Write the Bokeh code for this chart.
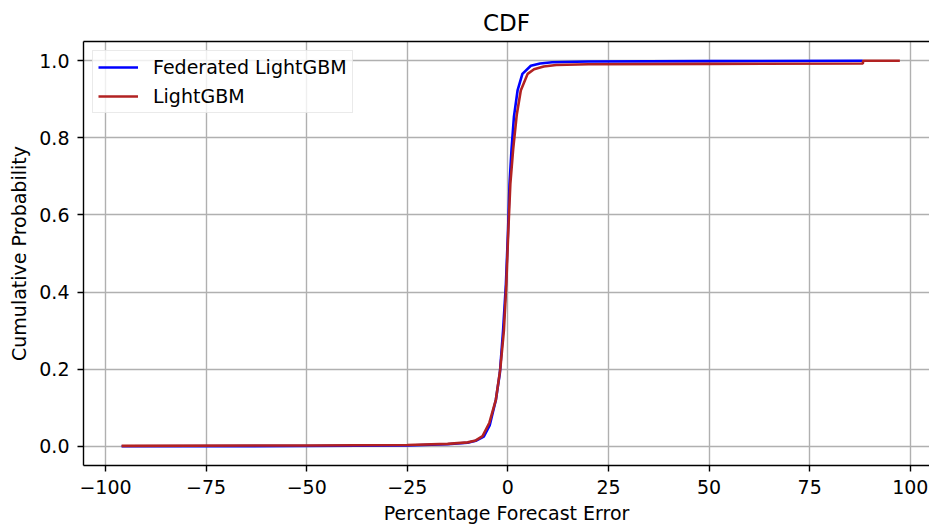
from bokeh.plotting import figure
from bokeh.models import Range1d, FixedTicker, CustomJSTickFormatter, LinearAxis, Legend, LegendItem
from bokeh.embed import file_html
from bokeh.resources import INLINE

# ---- data ----
fed_x = [-96.0, -50.0, -25.0, -15.0, -10.0, -8.0, -6.0, -4.5, -3.0, -2.0, -1.2, -0.5,
         0.0, 0.4, 0.9, 1.5, 2.4, 3.6, 5.7, 8.0, 11.0, 20.0, 50.0, 88.2]
fed_y = [0.0, 0.0005, 0.002, 0.005, 0.009, 0.014, 0.025, 0.055, 0.12, 0.19, 0.30, 0.42,
         0.55, 0.68, 0.77, 0.855, 0.923, 0.966, 0.987, 0.993, 0.996, 0.998, 0.999, 1.0]

lgb_x = [-96.0, -50.0, -25.0, -15.0, -10.0, -8.0, -6.3, -4.6, -3.0, -1.9, -1.0, -0.4,
         0.1, 0.6, 1.3, 2.2, 3.2, 4.9, 6.5, 8.9, 12.0, 20.0, 50.0, 88.2, 88.3, 97.4]
lgb_y = [0.001, 0.002, 0.003, 0.006, 0.010, 0.015, 0.026, 0.061, 0.12, 0.20, 0.30, 0.42,
         0.56, 0.68, 0.77, 0.86, 0.923, 0.966, 0.978, 0.985, 0.989, 0.991, 0.992, 0.993, 1.0, 1.0]

x_ticks = [-100, -75, -50, -25, 0, 25, 50, 75, 100]
y_ticks = [0.0, 0.2, 0.4, 0.6, 0.8, 1.0]

FONT = "DejaVu Sans"
FS = "19px"

p = figure(width=929, height=526, output_backend="svg", toolbar_location=None,
           x_range=Range1d(-105.47, 104.77), y_range=Range1d(-0.05, 1.05),
           min_border_left=83, min_border_right=0, min_border_top=41, min_border_bottom=60,
           background_fill_color="white", border_fill_color="white")
p.outline_line_color = None

p.title.text = "CDF"
p.title.align = "center"
p.title.text_font = FONT
p.title.text_font_size = "23px"
p.title.text_font_style = "normal"
p.title.text_color = "black"
p.title.standoff = 12

for ax in (p.xaxis[0], p.yaxis[0]):
    ax.axis_line_color = "black"
    ax.axis_line_width = 1.4
    ax.major_tick_line_color = "black"
    ax.major_tick_line_width = 1.4
    ax.major_tick_in = 0
    ax.major_tick_out = 6
    ax.minor_tick_line_color = None
    ax.major_label_text_font = FONT
    ax.major_label_text_font_size = FS
    ax.major_label_text_color = "black"
    ax.axis_label_text_font = FONT
    ax.axis_label_text_font_size = FS
    ax.axis_label_text_font_style = "normal"
    ax.axis_label_text_color = "black"

p.xaxis.ticker = FixedTicker(ticks=x_ticks)
p.yaxis.ticker = FixedTicker(ticks=y_ticks)
p.xaxis.formatter = CustomJSTickFormatter(code="return tick.toFixed(0).replace('-', '\u2212');")
p.yaxis.formatter = CustomJSTickFormatter(code="return tick.toFixed(1);")
p.xaxis.axis_label = "Percentage Forecast Error"
p.yaxis.axis_label = "Cumulative Probability"
p.xaxis.major_label_standoff = 8
p.yaxis.major_label_standoff = 8
p.xaxis.axis_label_standoff = 5
p.yaxis.axis_label_standoff = 6

top = LinearAxis(ticker=FixedTicker(ticks=[]), major_label_text_font_size="0px",
                 axis_line_color="black", axis_line_width=1.4,
                 major_tick_out=0, major_tick_in=0, minor_tick_out=0, minor_tick_in=0,
                 major_label_standoff=0, axis_label_standoff=0,
                 major_tick_line_color=None, minor_tick_line_color=None)
p.add_layout(top, "above")

p.grid.grid_line_color = "#b0b0b0"
p.grid.grid_line_width = 1.4
p.xgrid.ticker = FixedTicker(ticks=x_ticks)
p.ygrid.ticker = FixedTicker(ticks=y_ticks)

r1 = p.line(fed_x, fed_y, line_color="#0000ff", line_width=2.6)
r2 = p.line(lgb_x, lgb_y, line_color="#b22222", line_width=2.6)

legend = Legend(items=[LegendItem(label="Federated LightGBM", renderers=[r1]),
                       LegendItem(label="LightGBM", renderers=[r2])],
                location="top_left")
legend.margin = 9
legend.padding = 5
legend.spacing = 7
legend.glyph_width = 40
legend.glyph_height = 22
legend.label_height = 22
legend.label_standoff = 15
legend.label_text_font = FONT
legend.label_text_font_size = FS
legend.label_text_color = "black"
legend.border_line_color = "#d6d6d6"
legend.border_line_width = 1.4
legend.background_fill_color = "white"
legend.background_fill_alpha = 0.8
p.add_layout(legend, "center")

open("out.html", "w").write(file_html(p, INLINE))
